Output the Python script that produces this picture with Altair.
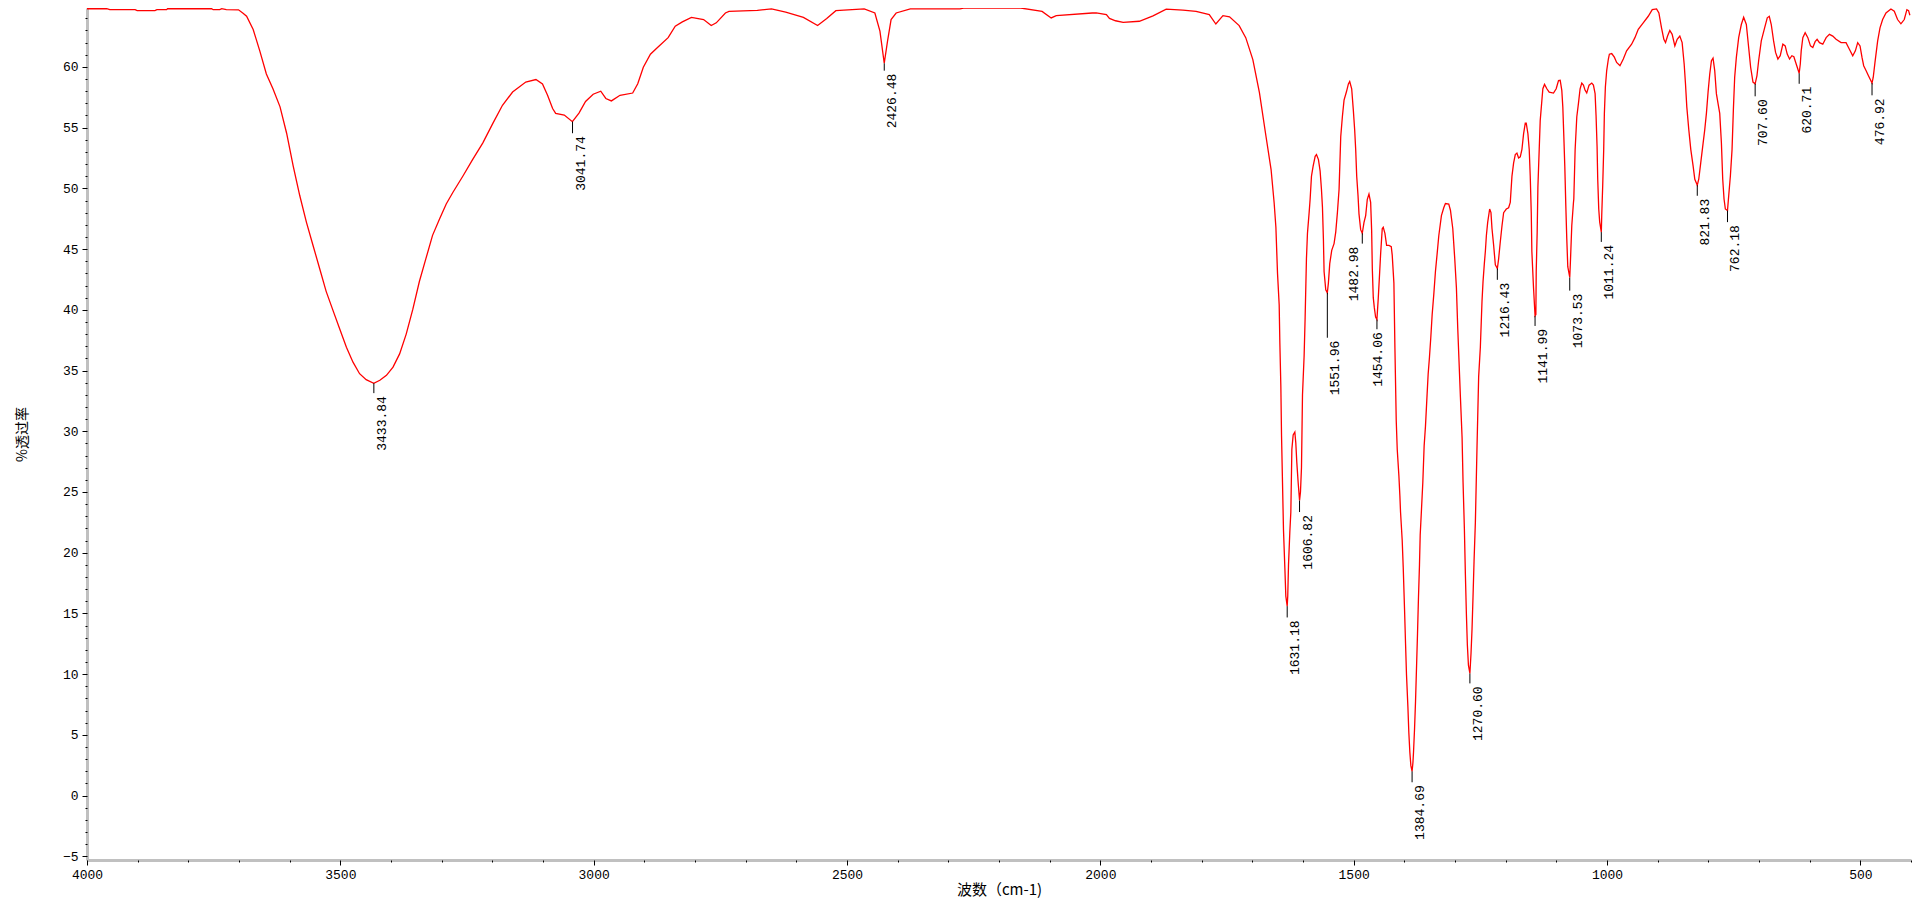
import altair as alt
import pandas as pd

# ---- spectrum (wavenumber cm-1, % transmittance) ----
wavenumber = [
    4000, 3961, 3955, 3905, 3901, 3866, 3862, 3843, 3841, 3754, 3751, 3738, 3734, 3725, 3701,
    3692, 3685, 3672, 3659, 3646, 3633, 3619, 3606, 3593, 3580, 3567, 3554, 3541, 3528, 3514,
    3501, 3488, 3475, 3462, 3449, 3434, 3422, 3409, 3396, 3383, 3370, 3357, 3344, 3331, 3318,
    3304, 3291, 3278, 3258, 3239, 3219, 3199, 3180, 3160, 3134, 3114, 3101, 3091, 3081, 3075,
    3058, 3042, 3029, 3016, 3001, 2986, 2976, 2965, 2948, 2923, 2913, 2902, 2888, 2874, 2853,
    2839, 2825, 2807, 2783, 2768, 2758, 2740, 2733, 2677, 2649, 2621, 2586, 2558, 2540, 2522,
    2466, 2445, 2435, 2426.5, 2420, 2413, 2403, 2375, 2277, 2270, 2157, 2115, 2097, 2087, 2016,
    2008, 1988, 1982, 1970, 1955, 1923, 1896, 1870, 1837, 1811, 1785, 1772, 1758, 1745, 1726,
    1713, 1699, 1686, 1673, 1663, 1657, 1653.5, 1650.3, 1647, 1645.7, 1643.7, 1642.4, 1640.4,
    1638.5, 1635.8, 1633.9, 1631.2, 1630.1, 1628.6, 1626, 1624, 1622, 1619.4, 1616.1, 1614.2,
    1612.2, 1609.6, 1606.8, 1605, 1603, 1601, 1597.8, 1595.8, 1593.2, 1591.2, 1587.9, 1585.9,
    1583.3, 1580, 1576, 1573.4, 1569.5, 1566.2, 1563.6, 1561.6, 1559.7, 1558.4, 1555.1, 1552,
    1549.9, 1547.2, 1543.3, 1538.7, 1535.4, 1532.1, 1528.8, 1525.5, 1522.3, 1519, 1514.4,
    1510.4, 1507.8, 1503.9, 1500.6, 1498, 1496, 1494, 1491.4, 1489.5, 1486.2, 1483, 1479.6,
    1476.3, 1473.1, 1469.8, 1466.5, 1464.5, 1463.2, 1461.3, 1459.3, 1456.7, 1454.1, 1451.4,
    1448.8, 1446.8, 1443.6, 1441.6, 1438.3, 1435, 1430.4, 1425.8, 1423.9, 1420.6, 1418.6, 1416,
    1414, 1410.7, 1408.8, 1407.5, 1404.2, 1402.2, 1399.6, 1397.6, 1395.7, 1393, 1391.1, 1389.1,
    1387.1, 1384.7, 1383, 1381.9, 1379.9, 1377.9, 1376, 1374, 1372.1, 1370.1, 1368.7, 1366.1,
    1363.5, 1360.9, 1358.3, 1355, 1353, 1350.4, 1347.8, 1345.1, 1341.9, 1338.6, 1335.3, 1332,
    1326.8, 1322.2, 1318.9, 1312.3, 1309, 1304.4, 1300.5, 1297.2, 1294.6, 1292, 1289.3, 1286,
    1284.1, 1281.5, 1279.5, 1277.5, 1275.6, 1273.5, 1270.6, 1268.4, 1266.4, 1264.5, 1262.4,
    1259.8, 1256.5, 1253.3, 1250, 1246.7, 1244.7, 1242.1, 1240.1, 1238.1, 1235.5, 1231.6, 1229,
    1227, 1223.7, 1220.4, 1216.4, 1213.9, 1210.6, 1207.3, 1204, 1198.7, 1194.2, 1190.9, 1187.6,
    1184.3, 1181, 1177.8, 1174.5, 1171.2, 1167.9, 1164.6, 1161.3, 1159.4, 1156.1, 1153.5,
    1151.5, 1149.5, 1148.3, 1145, 1142, 1140.4, 1139.7, 1137.8, 1136.4, 1133.8, 1131.8, 1128.5,
    1126.6, 1123.3, 1118.7, 1114.1, 1105.6, 1100.3, 1095.7, 1092.4, 1089.2, 1087.2, 1085.2,
    1083.3, 1081.3, 1079.4, 1077.4, 1073.5, 1072.2, 1069.5, 1066.2, 1065.5, 1062.9, 1059.6,
    1056.4, 1053.1, 1049.8, 1046.5, 1043.2, 1040, 1035.4, 1030.1, 1026.8, 1023.5, 1021.6,
    1019.6, 1018.3, 1016.3, 1014.4, 1011.2, 1010.4, 1008.5, 1006.5, 1005.2, 1003.2, 1000.6,
    997.3, 995.3, 990.7, 985.5, 981, 974.4, 967.8, 961.3, 951.4, 944.9, 938.3, 928.5, 918.6,
    910.7, 902.2, 897.6, 892.4, 887.8, 884.5, 880.5, 876, 871.4, 866.1, 861.5, 856.3, 851.7,
    847.7, 845.1, 842.5, 838.5, 834.6, 830, 826.7, 821.8, 818.9, 815, 810.3, 807.1, 803.8,
    800.5, 797.2, 793.9, 790.7, 787.4, 784.1, 780.8, 777.5, 774.2, 771.6, 769, 766.4, 762.2,
    759.8, 756.5, 753.2, 750.6, 748, 744.7, 740.1, 734.9, 730.3, 725, 720.4, 716.5, 711.9,
    707.6, 704, 700.7, 695.5, 688.9, 683.7, 679.7, 675.8, 671.2, 667.3, 662.7, 658.1, 652.9,
    648.3, 644.3, 639.7, 635.1, 631.2, 626.6, 620.7, 618.5, 616.7, 613.5, 608.9, 603.6, 598.4,
    593.8, 589.2, 585.3, 580.7, 574.1, 567.5, 561, 554.4, 547.9, 538, 528.2, 521.6, 515,
    509.8, 505.2, 500.6, 496.7, 493.4, 488.8, 484.2, 476.9, 474.5, 471.1, 465.8, 461.2, 456,
    449.4, 439.6, 433, 426.5, 419.9, 413.3, 408.1, 404.8, 402.2,
]
transmittance = [
    64.79, 64.79, 64.71, 64.71, 64.63, 64.63, 64.71, 64.71, 64.79, 64.79, 64.71, 64.71, 64.79, 64.71, 64.70,
    64.42, 64.17, 63.08, 61.32, 59.42, 58.20, 56.71, 54.54, 51.83, 49.39, 47.22, 45.32, 43.42, 41.52, 39.89,
    38.40, 36.91, 35.69, 34.74, 34.25, 33.95, 34.20, 34.60, 35.28, 36.37, 38.00, 40.03, 42.33, 44.23, 46.13,
    47.49, 48.71, 49.66, 51.02, 52.37, 53.73, 55.35, 56.84, 57.93, 58.75, 58.96, 58.60, 57.66, 56.57, 56.17,
    56.04, 55.49, 56.20, 57.15, 57.75, 58.00, 57.40, 57.20, 57.66, 57.85, 58.61, 59.97, 61.05, 61.60, 62.41,
    63.35, 63.71, 64.08, 63.90, 63.41, 63.63, 64.44, 64.57, 64.66, 64.77, 64.52, 64.08, 63.41, 63.98, 64.63,
    64.77, 64.44, 62.95, 60.30, 62.13, 63.90, 64.44, 64.77, 64.77, 64.85, 64.85, 64.57, 64.03, 64.22, 64.44,
    64.44, 64.30, 63.99, 63.80, 63.67, 63.76, 64.20, 64.76, 64.67, 64.58, 64.31, 63.53, 64.22, 64.13, 63.40,
    62.41, 60.60, 57.88, 54.27, 51.55, 48.84, 46.80, 43.00, 40.40, 37.30, 33.65, 29.70, 25.65,
    21.86, 18.74, 16.43, 15.60, 16.43, 19.00, 21.70, 23.35, 28.50, 29.70, 29.94, 29.04,
    27.42, 25.80, 24.30, 25.00, 27.00, 33.00, 36.20, 39.35, 44.20, 46.30, 48.00, 49.12,
    51.00, 51.83, 52.64, 52.78, 52.37, 51.42, 49.93, 48.44, 45.80, 43.15, 41.65, 41.40,
    42.20, 43.80, 44.90, 45.45, 46.40, 48.00, 49.93, 54.27, 55.90, 57.26, 57.93,
    58.60, 58.80, 58.20, 56.40, 54.80, 53.20, 51.00, 49.40, 47.90, 46.60, 46.30, 47.20,
    47.76, 49.10, 49.53, 48.85, 46.50, 43.40, 41.00, 40.20, 39.40, 39.20, 41.00,
    43.00, 44.60, 46.67, 46.80, 46.30, 45.30, 45.30, 45.20, 44.50, 42.20, 36.90, 30.90,
    28.50, 26.30, 24.70, 23.35, 21.00, 18.80, 15.35, 12.50, 9.93, 7.35, 5.18, 3.56,
    2.47, 2.00, 2.74, 3.56, 5.45, 7.76, 10.47, 13.32, 16.30, 19.00, 21.45, 23.60,
    25.80, 28.80, 30.40, 33.10, 34.70, 36.10, 37.70, 39.60, 41.25, 43.15, 44.60, 46.10,
    47.75, 48.40, 48.75, 48.70, 48.20, 46.70, 44.20, 41.80, 38.50, 35.70, 32.80, 29.45,
    25.80, 22.00, 18.20, 14.94, 12.40, 10.74, 10.06, 11.70, 13.70, 16.30, 19.30,
    22.50, 28.80, 34.50, 36.90, 40.70, 42.30, 43.80, 44.80, 46.10, 47.20, 48.30, 48.00,
    46.70, 45.30, 43.70, 43.40, 44.20, 45.60, 46.90, 48.00, 48.30, 48.40, 48.85, 51.00,
    52.10, 52.78, 52.90, 52.50, 52.60, 53.20, 54.50, 55.36, 55.36, 54.50, 53.20,
    51.00, 48.00, 44.80, 41.80, 39.50, 39.60, 43.15, 46.40, 50.07, 53.20, 55.60, 57.25,
    58.20, 58.56, 58.20, 57.93, 57.85, 58.20, 58.88, 58.90, 58.07, 56.70, 54.27,
    51.83, 48.58, 45.86, 43.55, 42.66, 43.96, 46.94, 48.84, 49.12, 53.20, 55.90,
    56.98, 58.20, 58.67, 58.50, 58.07, 57.85, 58.50, 58.67, 58.50, 57.80, 56.00,
    53.46, 50.75, 48.30, 47.22, 46.40, 47.76, 50.20, 53.20, 56.17, 58.34, 59.70,
    60.65, 61.05, 61.10, 60.80, 60.37, 60.10, 60.65, 61.32, 61.87, 62.41, 63.09, 63.63, 64.17,
    64.71, 64.77, 64.44, 63.22, 62.27, 62.00, 62.54, 63.00, 62.68, 61.73, 62.27, 62.54, 62.00,
    60.24, 58.61, 56.71, 54.81, 53.19, 51.83, 50.75, 50.26, 50.75, 52.10, 53.73, 54.81, 56.17,
    57.93, 59.42, 60.51, 60.73, 59.70, 57.80, 56.98, 56.17, 53.73, 50.75, 49.12, 48.30, 48.17,
    49.39, 51.02, 53.19, 56.44, 59.15, 60.78, 62.41, 63.49, 64.09, 63.49, 61.60, 59.97, 58.75,
    58.61, 59.29, 60.51, 62.14, 63.22, 64.04, 64.17, 63.49, 62.14, 61.19, 60.65, 60.92, 61.87,
    61.73, 61.05, 60.65, 60.92, 60.84, 60.24, 59.48, 60.24, 61.32, 62.41, 62.81, 62.41, 61.73,
    61.60, 62.08, 62.27, 62.00, 61.87, 62.41, 62.68, 62.54, 62.27, 62.00, 62.00, 61.46, 60.92,
    61.32, 62.00, 61.73, 60.78, 60.10, 59.70, 59.29, 58.67, 59.15, 60.37, 62.14, 63.22, 63.90,
    64.44, 64.77, 64.58, 63.90, 63.55, 63.90, 64.71, 64.63, 64.25,
]

# ---- peak annotations ----
peak_labels = ["3433.84", "3041.74", "2426.48", "1631.18", "1606.82", "1551.96", "1482.98",
               "1454.06", "1384.69", "1270.60", "1216.43", "1141.99", "1073.53", "1011.24",
               "821.83", "762.18", "707.60", "620.71", "476.92"]
peak_wn = [3433.84, 3041.74, 2426.48, 1631.18, 1606.82, 1551.96, 1482.98, 1454.06, 1384.69,
           1270.60, 1216.43, 1141.99, 1073.53, 1011.24, 821.83, 762.18, 707.60, 620.71, 476.92]
peak_pct = [33.95, 55.49, 60.30, 15.60, 24.30, 41.40, 46.30, 39.20, 2.00, 10.06, 43.40, 39.50,
            42.66, 46.40, 50.26, 48.17, 58.61, 59.48, 58.67]
label_pct = [33.14, 54.54, 59.69, 14.67, 23.35, 37.70, 45.45, 38.40, 1.10, 9.24, 42.47, 38.67,
             41.58, 45.59, 49.39, 47.22, 57.58, 58.61, 57.66]
label_wn = [3433.84, 3041.74, 2426.48, 1631.18, 1606.82, 1551.96, 1514.5, 1468.0, 1384.69,
            1270.60, 1216.43, 1141.99, 1073.53, 1011.24, 821.83, 762.18, 707.60, 620.71, 476.92]

x_major = list(range(500, 4001, 500))
x_minor = list(range(400, 4001, 100))
y_major = list(range(-5, 61, 5))
y_minor = list(range(-5, 65, 1))

spec_df = pd.DataFrame({"wn": wavenumber, "t": transmittance})
peak_df = pd.DataFrame({"label": peak_labels, "wn": peak_wn, "t": peak_pct,
                        "t2": label_pct, "lwn": label_wn})

W, H = 1824, 852
MONO = "Liberation Mono"
CJK = "Noto Sans CJK SC"

xscale = alt.Scale(domain=[400, 4000], reverse=True, nice=False, zero=False)
yscale = alt.Scale(domain=[-5.3, 64.85], nice=False, zero=False)

x_axis_major = alt.Axis(
    orient="bottom", values=x_major, format="d", grid=False, title="波数（cm-1)",
    tickSize=5, tickColor="black", tickWidth=1, domainColor="#c0c0c0", domainWidth=3,
    labelFont=MONO, labelFontSize=13, labelColor="black", labelPadding=3,
    labelFlush=False, labelOverlap=False, labelBound=False,
    titleFont=CJK, titleFontSize=15, titleFontWeight="normal", titleColor="black",
    titleX=W / 2, titleY=22, titleAlign="center", titleBaseline="top",
)
y_axis_major = alt.Axis(
    orient="left", values=y_major, grid=False, title="%透过率",
    tickSize=5, tickColor="black", tickWidth=1, domainColor="#c0c0c0", domainWidth=3,
    labelFont=MONO, labelFontSize=13, labelColor="black", labelPadding=4,
    labelOverlap=False, labelBound=False,
    titleFont=CJK, titleFontSize=14, titleFontWeight="normal", titleColor="black",
    titleX=-58, titleY=H / 2, titleAngle=270, titleAlign="center", titleBaseline="bottom",
)
x_axis_minor = alt.Axis(
    orient="bottom", values=x_minor, grid=False, title=None, labels=False, domain=False,
    tickSize=2, tickColor="black", tickWidth=1, zindex=1,
)
y_axis_minor = alt.Axis(
    orient="left", values=y_minor, grid=False, title=None, labels=False, domain=False,
    tickSize=2, tickColor="black", tickWidth=1, zindex=1,
)

line = alt.Chart(spec_df).mark_line(color="#ff0000", strokeWidth=1.3).encode(
    x=alt.X("wn:Q", scale=xscale, axis=x_axis_major),
    y=alt.Y("t:Q", scale=yscale, axis=y_axis_major),
)

leaders = alt.Chart(peak_df).mark_rule(color="black", strokeWidth=1).encode(
    x=alt.X("wn:Q", scale=xscale, axis=x_axis_minor),
    y=alt.Y("t:Q", scale=yscale, axis=y_axis_minor),
    y2="t2:Q",
)

texts = alt.Chart(peak_df).mark_text(
    angle=270, align="right", baseline="top", dx=-3, dy=2,
    font=MONO, fontSize=13, color="black",
).encode(
    x=alt.X("lwn:Q", scale=xscale, axis=None),
    y=alt.Y("t2:Q", scale=yscale, axis=None),
    text="label:N",
)

chart = alt.layer(line, leaders, texts).resolve_axis(
    x="independent", y="independent"
).resolve_scale(
    x="shared", y="shared"
).properties(
    width=W, height=H,
    autosize=alt.AutoSizeParams(type="none"),
    padding={"left": 79, "top": 0, "right": 1, "bottom": 38},
    background="white",
).configure_view(stroke=None)

chart.save("out.html", embed_options={"renderer": "svg", "actions": False})
